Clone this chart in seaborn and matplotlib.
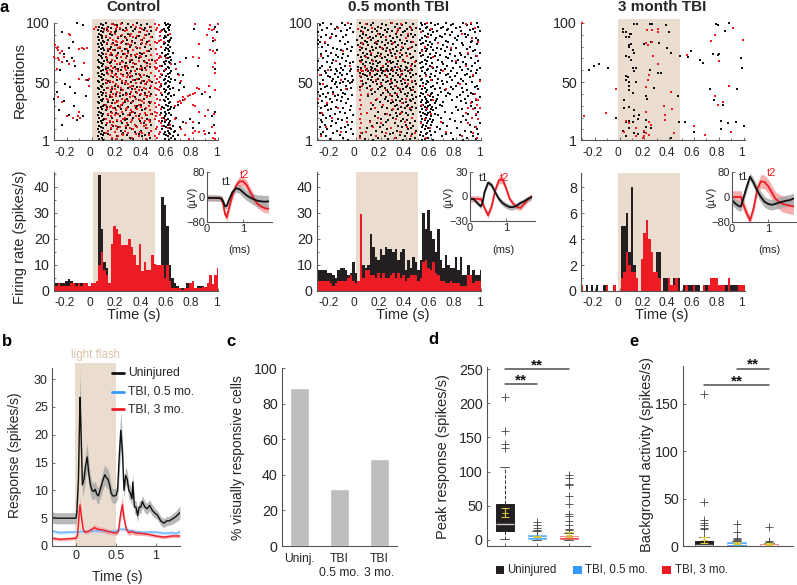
import numpy as np
import matplotlib
matplotlib.use("Agg")
import matplotlib.pyplot as plt
import seaborn as sns
from matplotlib.lines import Line2D
from matplotlib.patches import Rectangle
from matplotlib.transforms import ScaledTranslation

# raster rows: (repetition, spike times...), every second spike of a dense row sits one repetition lower
ctrl_black = [
    (100,-.12,.07,.11,.17,.24,.29,.36,.44,.58,.6),(98,-.07,.06,.09,.13,.2,.31,.39,.46,.59,.61,.62,.98),
    (96,.08,.1,.15,.22,.27,.34,.42,.57,.6,.81),(94,.05,.07,.12,.19,.25,.33,.41,.47,.56,.58,.61),
    (92,-.24,.06,.09,.14,.18,.29,.38,.45,.59,.62,.99),(90,.07,.08,.16,.23,.3,.37,.43,.58,.6),
    (88,.05,.08,.11,.21,.26,.35,.48,.57,.59,.63),(86,.06,.09,.13,.19,.28,.32,.4,.6,.62,.96),
    (84,-.15,.07,.1,.17,.24,.34,.44,.58,.61),(82,.05,.08,.12,.2,.27,.31,.39,.46,.57,.6),
    (80,-.27,-.18,.06,.09,.15,.22,.3,.36,.42,.59,.62),(78,.07,.1,.14,.18,.26,.33,.47,.58,.6,.99),
    (76,.05,.08,.13,.21,.29,.38,.45,.56,.61,.64),(74,-.22,.06,.09,.16,.25,.31,.4,.59,.6),
    (72,.07,.11,.19,.23,.28,.35,.43,.55,.58,.62),(70,-.16,.05,.08,.12,.2,.32,.37,.48,.6,.63,.75),
    (68,-.2,.06,.1,.15,.24,.3,.41,.57,.59,.61),(66,.07,.09,.14,.22,.27,.34,.44,.58,.62,.66),
    (64,-.13,.05,.08,.18,.26,.33,.39,.46,.56,.6,.84),(62,.06,.11,.13,.21,.29,.36,.42,.59,.61,.98),
    (60,-.25,.07,.09,.16,.23,.31,.4,.57,.58,.63),(58,.05,.08,.12,.19,.28,.35,.47,.6,.62,.68),
    (56,-.08,.06,.1,.15,.25,.32,.38,.44,.56,.59,.72),(54,.07,.09,.17,.22,.3,.37,.45,.58,.61,.63),
    (52,-.03,.05,.08,.13,.2,.27,.34,.41,.57,.6,.66),(50,.06,.11,.14,.24,.31,.39,.48,.59,.62,.7),
    (48,-.21,.07,.09,.18,.26,.33,.43,.55,.58,.61),(46,-.17,.05,.08,.12,.21,.29,.36,.46,.6,.64,.73),
    (44,.06,.1,.16,.23,.32,.4,.57,.59,.62,.69),(42,-.28,-.13,.07,.09,.15,.27,.35,.42,.58,.61,.9),
    (40,.05,.08,.19,.25,.3,.38,.47,.56,.6,.65,.87),(38,-.05,.06,.11,.14,.22,.34,.44,.59,.63,.94),
    (36,-.3,.07,.09,.17,.28,.37,.41,.57,.6,.72),(34,-.22,.05,.08,.13,.2,.26,.33,.45,.58,.62),
    (32,.06,.1,.16,.24,.31,.39,.46,.59,.61,.68),(30,-.14,.07,.09,.12,.21,.29,.36,.56,.6,.63),
    (28,.05,.08,.18,.23,.35,.42,.57,.62,.65),(26,-.26,.06,.11,.15,.27,.32,.4,.58,.6,.98),
    (24,.07,.09,.19,.25,.34,.48,.55,.59,.61),(22,-.18,-.07,.05,.08,.13,.22,.3,.37,.43,.58,.63,.95),
    (20,.06,.1,.16,.28,.33,.44,.57,.6,.67,.78),(18,-.12,.07,.09,.2,.26,.38,.46,.56,.59,.62),
    (16,.05,.08,.14,.24,.31,.41,.58,.61,.72,.85),(14,-.24,.06,.11,.17,.29,.35,.47,.57,.6,.64,.97),
    (12,.07,.09,.21,.27,.36,.43,.59,.62,.7,.8),(10,.05,.08,.15,.23,.32,.39,.56,.6,.63,.66),
    (8,.06,.1,.18,.25,.34,.45,.58,.61,.65,.93),(6,.07,.09,.13,.28,.37,.42,.57,.59,.62,.68),
    (4,.05,.08,.2,.3,.4,.46,.6,.63,.64),(2,.06,.09,.16,.24,.33,.44,.58,.61,.66),
]
ctrl_red = [
    (99,.16,.18,.23,.33,.5,.53,.82,.94,1.0),(97,.03,.12,.2,.22,.35,.38,.47,.52),(95,.02,.1,.19,.28,.4,.51,.93,.95,.97),
    (93,.13,.15,.26,.37,.44,.54,.55),(91,-.18,-.17,.18,.24,.31,.42,.62,.91),(89,.11,.21,.3,.33,.36,.47,.54),
    (87,.14,.17,.27,.39,.41,.55,.96,.98),(85,.19,.2,.25,.32,.45,.5,.53,.57),(83,.12,.16,.23,.29,.4,.43,.52,.85),
    (81,-.29,-.27,.18,.22,.3,.35,.46,.55),(79,-.28,-.1,-.08,-.06,-.04,.13,.21,.28,.38,.51),(77,-.27,-.24,.17,.24,.33,.44,.94,.96),
    (75,-.25,.11,.15,.26,.29,.36,.41,.52,.98),(73,.14,.19,.2,.31,.34,.38,.47,.54),(71,-.3,-.27,-.22,.12,.23,.27,.39,.53,.55,.59,.8,.85),
    (69,-.26,-.14,.16,.18,.3,.37,.45,.5,.52),(67,-.24,-.06,.13,.22,.25,.33,.42,.51,.7,.98),(65,-.18,.15,.2,.28,.35,.44,.46,.54,.63),
    (63,.11,.17,.24,.26,.32,.4,.5,.52,.96),(61,-.28,.14,.19,.27,.38,.43,.51,.58,.67),(59,.12,.16,.21,.3,.34,.47,.53,.98),
    (57,.13,.18,.23,.29,.37,.41,.55,.69),(55,.15,.2,.25,.28,.31,.39,.5,.54),(53,-.1,-.05,-.02,.11,.22,.33,.36,.45,.52),
    (51,.14,.17,.24,.27,.4,.44,.46,.53,.71),(49,.12,.19,.26,.29,.35,.42,.51,.55),(47,-.02,.16,.21,.3,.32,.38,.47,.54,.93),
    (45,.13,.18,.23,.34,.41,.43,.5,.52,.83,.85),(43,.15,.2,.25,.31,.37,.45,.53,.9,.98),(41,.11,.17,.22,.28,.36,.39,.55,.8,.82),
    (39,.14,.19,.27,.33,.42,.46,.51,.76,.78),(37,-.27,.12,.16,.24,.3,.35,.44,.52,.72,.74),(35,.13,.21,.26,.29,.38,.4,.54,.7,.73),
    (33,-.24,.18,.2,.25,.32,.41,.47,.5,.68,.71),(31,.11,.15,.23,.34,.37,.45,.53,.66,.8,.82),(29,.14,.17,.22,.28,.39,.43,.51),
    (27,.12,.19,.27,.31,.36,.46,.55,.92),(25,-.1,.16,.24,.3,.33,.42,.5,.52,.85),(23,.13,.18,.21,.29,.38,.44,.47,.54,.97),
    (21,-.2,-.15,-.11,-.09,.15,.26,.35,.4,.51,.56,.9),(19,.11,.2,.25,.32,.37,.45,.5,.58,.66),(17,.14,.17,.23,.31,.42,.46,.53,.8),
    (15,.12,.16,.28,.34,.39,.43,.55,.62,.75),(13,.19,.22,.27,.36,.41,.52,.56,.95),(11,.15,.2,.3,.33,.44,.51,.6,.71),
    (9,.13,.18,.26,.38,.47,.54,.82,.85,.89),(7,.11,.24,.29,.35,.4,.53,.8,.9,.98),(5,.14,.21,.25,.37,.45,.5,.74),(3,.16,.19,.32,.43,.52,.77,.96,.98),
]
mid_black = [
    (100,-.26,-.2,-.11,-.04,.03,.09,.14,.21,.28,.33,.4,.46,.52,.55,.6,.66,.72,.78,.86,.92,.97),
    (98,-.29,-.15,-.09,.05,.12,.18,.24,.31,.37,.43,.53,.57,.63,.7,.76,.83,.89,.98),
    (96,-.23,-.17,-.05,.02,.07,.15,.2,.26,.35,.41,.48,.51,.56,.61,.68,.74,.8,.94),
    (94,-.27,-.12,-.07,.04,.1,.17,.23,.29,.34,.39,.45,.54,.59,.65,.73,.84,.91,.99),
    (92,-.3,-.19,-.02,.06,.13,.19,.25,.32,.38,.44,.52,.58,.62,.71,.77,.87,.95),
    (90,-.24,-.16,-.08,.03,.08,.16,.22,.27,.36,.42,.47,.55,.6,.67,.75,.82,.9),
    (88,-.28,-.21,-.1,.05,.11,.14,.2,.3,.33,.4,.46,.53,.57,.64,.69,.79,.88,.96),
    (86,-.3,-.13,.01,.07,.12,.18,.24,.28,.35,.41,.51,.56,.63,.72,.81,.93,.98),
    (84,-.29,-.25,-.06,.04,.09,.15,.21,.26,.31,.37,.44,.54,.59,.66,.74,.85,.92),
    (82,-.3,-.22,-.09,.02,.06,.1,.17,.23,.29,.34,.39,.48,.52,.58,.61,.7,.78,.86,.97),
    (80,-.27,-.18,-.03,.05,.13,.16,.19,.25,.32,.38,.45,.55,.6,.65,.73,.8,.91),
    (78,-.15,-.12,-.07,.03,.08,.14,.22,.27,.3,.36,.42,.53,.57,.62,.68,.76,.89,.95),
    (76,-.24,-.2,-.04,.06,.11,.18,.24,.28,.33,.4,.47,.51,.56,.64,.71,.83,.94,.99),
    (74,-.28,-.16,-.1,.02,.09,.12,.2,.26,.31,.37,.43,.54,.59,.67,.75,.84,.9),
    (72,-.22,-.14,-.06,.04,.07,.15,.17,.23,.29,.35,.41,.46,.52,.58,.63,.72,.79,.87,.96),
    (70,-.26,-.18,-.11,.05,.1,.13,.21,.25,.32,.38,.44,.55,.6,.66,.74,.82,.92),
    (68,-.3,-.23,-.08,-.02,.03,.08,.16,.19,.27,.3,.34,.39,.48,.53,.57,.69,.77,.86,.98),
    (66,-.19,-.13,-.05,.06,.11,.14,.18,.24,.28,.33,.42,.45,.51,.56,.61,.7,.8,.88,.95),
    (64,-.27,-.21,-.09,.02,.07,.12,.17,.22,.26,.31,.36,.4,.47,.54,.59,.65,.73,.83,.93),
    (62,-.29,-.16,-.12,-.04,.04,.09,.13,.15,.2,.25,.29,.35,.41,.44,.52,.58,.62,.71,.78,.9,.99),
    (60,-.3,-.25,-.2,-.15,-.1,-.05,.02,.05,.08,.1,.12,.14,.16,.18,.2,.22,.24,.26,.28,.3,.33,.36,.39,.42,.45,.53,.57,.64,.68,.76,.85,.92,.97),
    (58,-.24,-.17,-.13,-.07,.03,.06,.11,.17,.21,.27,.32,.37,.43,.48,.55,.6,.67,.74,.81,.89,.96),
    (56,-.28,-.22,-.11,-.03,.07,.09,.15,.19,.23,.3,.34,.4,.46,.51,.56,.63,.72,.79,.87,.94),
    (54,-.21,-.18,-.14,-.09,.04,.1,.13,.18,.25,.28,.35,.38,.44,.53,.59,.66,.75,.84,.91),
    (52,-.26,-.19,-.12,-.06,-.02,.05,.12,.16,.22,.26,.31,.36,.42,.47,.52,.57,.61,.69,.77,.86,.99),
    (50,-.16,-.13,-.1,-.05,-.03,.08,.14,.2,.24,.29,.33,.39,.45,.54,.58,.65,.73,.82,.93),
    (48,-.29,-.23,-.17,-.08,.06,.11,.17,.21,.27,.32,.37,.41,.48,.51,.56,.62,.7,.8,.88,.97),
    (46,-.25,-.2,-.15,-.04,.03,.09,.19,.23,.28,.34,.4,.43,.46,.55,.6,.67,.76,.85,.95),
    (44,-.28,-.12,-.07,.12,.18,.25,.3,.35,.38,.44,.53,.57,.63,.71,.78,.89,.98),
    (42,-.3,-.22,-.18,-.1,.15,.22,.26,.31,.36,.42,.47,.52,.56,.61,.68,.74,.86,.92),
    (40,-.26,-.14,-.09,-.03,.13,.2,.27,.33,.39,.45,.54,.58,.6,.66,.75,.83,.94),
    (38,-.29,-.24,-.17,-.11,.1,.24,.29,.34,.41,.48,.51,.55,.59,.62,.72,.81,.9,.99),
    (36,-.21,-.15,-.06,.16,.23,.32,.37,.43,.46,.53,.56,.6,.65,.77,.87,.96),
    (34,-.27,-.19,-.12,.19,.26,.3,.35,.4,.44,.52,.57,.58,.64,.7,.84,.93),
    (32,-.3,-.23,-.08,.14,.28,.33,.38,.42,.47,.54,.56,.59,.63,.67,.88,.97),
    (30,-.25,-.16,-.04,.21,.31,.36,.41,.45,.52,.55,.58,.61,.69,.8,.92),
    (28,-.28,-.2,-.1,.12,.25,.34,.39,.43,.48,.53,.57,.6,.64,.85,.95),
    (26,-.22,-.13,-.05,.18,.29,.37,.44,.51,.56,.59,.62,.71,.82,.98),
    (24,-.29,-.17,-.09,.23,.32,.35,.4,.46,.54,.55,.58,.63,.77,.9),
    (22,-.26,-.21,-.02,.15,.27,.33,.42,.52,.57,.6,.66,.86,.96),
    (20,-.24,-.14,-.07,.2,.3,.38,.45,.53,.56,.59,.68,.75,.93),
    (18,-.28,-.19,-.11,.11,.26,.36,.41,.47,.55,.58,.62,.79,.88),
    (16,-.27,-.16,-.03,.17,.24,.31,.39,.43,.52,.57,.61,.7,.84,.99),
    (14,-.25,-.2,-.06,.13,.22,.34,.4,.46,.54,.56,.6,.73,.91),
    (12,-.29,-.12,-.09,.09,.19,.28,.37,.44,.53,.58,.65,.81,.95),
    (10,-.23,-.15,-.04,.16,.25,.33,.42,.48,.55,.59,.67,.87,.97),
    (8,-.26,-.18,-.08,.05,.21,.3,.36,.41,.52,.57,.63,.76,.92),
    (6,-.28,-.13,-.02,.12,.27,.35,.45,.51,.56,.6,.72,.83,.98),
    (4,-.24,-.1,.03,.18,.23,.32,.39,.47,.54,.58,.69,.89,.94),
    (2,-.21,-.06,.07,.14,.26,.38,.43,.53,.55,.62,.78,.86,.96),
]
mid_red = [
    (100,-.06,.08,.29,.36,.57,.88,.92),(96,-.14,.02,.13,.34,.44,.6,.95),(92,.06,.18,.33,.42,.52,.85),(88,-.2,.1,.24,.4,.58,.93),
    (84,-.25,.05,.16,.3,.46,.66,.98),(80,.03,.21,.37,.43,.55,.76),(76,-.1,.12,.27,.35,.53,.9),(72,-.28,.08,.19,.32,.41,.62,.97),
    (68,-.16,.04,.14,.26,.38,.47,.8),(64,-.05,.07,.22,.34,.44,.61,.88),(60,-.22,.02,.04,.06,.09,.13,.17,.23,.3,.37,.43,.7),(56,-.29,.03,.11,.25,.36,.56,.94),
    (52,-.12,.04,.16,.28,.39,.45,.6,.99),(48,-.26,.05,.2,.31,.42,.54,.83),(44,-.08,.03,.13,.24,.35,.46,.72),(40,-.18,.04,.1,.27,.33,.58,.95),
    (36,-.3,.03,.17,.29,.4,.62,.96,.98),(32,-.23,.04,.12,.22,.37,.53,.92,.97),(28,-.14,.03,.15,.3,.43,.57,.9,.94,.99),(24,-.27,.04,.09,.25,.36,.6,.88,.96),
    (20,-.19,.03,.18,.32,.45,.55,.93,.98),(16,-.07,.04,.11,.2,.39,.52,.68,.9),(12,-.24,.03,.14,.28,.41,.59,.96),(8,-.12,.04,.08,.24,.35,.47,.72,.94),
    (4,-.28,.03,.16,.31,.44,.56,.85,.97),
]
late_black = [
    (100,.88),(99,.116,.142,.242,.26,.78),(98,.376,.79),(95,.03),(93,.85),(92,.054,.03,.4),(91,.085,.09),(88,.08,.05),
    (84,.25),(83,.32),(82,.09,.2),(81,.075),(80,.075),(79,.38),(77,.11),(76,.575),(75,.12,.417),(74,.75,.8),(73,.79),
    (72,.055,.49),(71,.08,.55),(70,.98),(69,.095,.645),(66,.67),(65,-.167),(64,-.207),(62,.107,.13,-.095,.985),(60,-.247,.242),
    (59,.12),(58,.31,.33),(55,.054),(54,.067),(52,.05),(50,.08,.13),(47,.075),(45,.275),(44,.725,.946),(43,.08),(41,.11),
    (38,.215,.47),(36,.223),(35,.035,.76),(31,.83),(29,.073),(28,.035),(26,.12),(22,.16),(21,.12),(20,-.03),(19,.15),
    (18,.215),(17,.08,.82),(16,.054,.107,.476,.524,.94),(15,.874),(13,.6,1.0),(12,.215),(11,.08,.255),(10,.82),(9,.027),
    (8,.2,.6),(7,.12),(6,.15),(4,.054),(3,.417),
]
late_red = [
    (100,-.3),(96,.914),(95,.31),(94,.22,.26),(92,.31),(90,.766),(86,.995),(85,.734),(84,.26),(83,.215),(81,.228),(73,.543),
    (72,.27),(68,.8),(65,.31),(56,.237),(52,.228),(47,.88),(46,.215),(44,-.03),(42,.417),(38,.766),(33,.83),(31,.796),(30,.36),
    (27,.425),(25,.215),(24,-.11),(22,.37),(21,-.288),(18,.37),(17,.055),(16,.24),(15,.08),(14,.255),(13,.6),(11,.13),
    (9,.2),(8,.035,.9),(7,.215,.44),(5,.24,.69),(4,.2,.134),(3,.19),
]

# psth values, one bin every 0.02 s
ctrl_hist_black = [3,3,3,3,3,4,4.5,4,3,3,3,3,3,3,2,3,3,4,44.5,24,11,9,3,10,5,5,5,5,5,5,5,5,5,5,5,5,5,5,5,5,5,5,8,36,33,25,10,5,3,2,1,1,1,3,2,1,1,2,2,2,1,1,1,1,1,1]
ctrl_hist_red = [3,2,3,2,2,2,2,3,3,2,3,2,3,3,2,3,3,4,10,15,8,6,3,18,25,24,22,17.5,17.5,17.5,20,17,14,10,18,7.5,11,8,8,14,10.5,10,10,10,5,10,4,1,1,1,1,.5,1,1,3,4,1,1,1,1.5,1.5,3,6,2.5,6,9]
mid_hist_black = [8,8,8,8,7,7,6,5,8,9,9,8,6,7,11,7,4,4,10,9,10,22,17,13,12,16,14,17,16,16,15,16,12,15,16,8,12,9,13,11,8,12,30,24,31,23,20,15,24,12,9,14,10,9,9,13,8,13,6,6,10,6,8,6,6,8]
mid_hist_red = [4,4,4,4,4,3,2,3,4,4,4,4,5,6,4,3,4,29.5,5,8,8,6,6,5,7,5,7,5,5,6,7,5,7,5,6,4,5,6,6,6,4,5,11,12,9,8,11,7,6,4,4,3,3,4,3,3,3,2,2,2,6,6,3,4,4,4]
late_hist_black = [0,0,.5,0,.5,0,.5,0,0,.5,0,0,0,0,0,0,5,5,6,3,8,2,1,0,2,0,0,0,0,1,3,3,0,1,1,0,0,1,0,1,0,.5,0,.5,.5,0,.5,.5,0,0,.5,.5,0,.5,.5,.5,.5,0,.5,0,.5,.5,.5,0,.5,0]
late_hist_red = [.5,0,0,0,0,0,0,0,0,0,.5,0,0,.5,0,0,1,1.5,3,2,1.5,1.5,1,0,2.5,4.5,5.5,4,3,1.5,1.5,1,0,0,0,1,.5,.5,1,0,0,0,.5,0,0,.5,0,0,0,.5,0,.5,1,1,1,.5,.5,.5,0,1,0,0,0,.5,.5,.5]

# spike waveforms in the insets
wave_t1 = [0,.1,.2,.3,.4,.45,.5,.55,.6,.7,.8,.9,1.0,1.1,1.2,1.3,1.4,1.5,1.6,1.7]
ctrl_wave_black = [-3,-3,-3,-3,-5,-15,-30,-28,-12,15,28,25,15,5,-2,-8,-12,-14,-15,-14]
ctrl_wave_red = [-3,-3,-3,-3,-5,-25,-55,-65,-40,5,35,50,50,38,15,-5,-22,-30,-36,-38]
ctrl_err_black = [10,10,10,10,10,10,9,9,10,10,12,14,16,16,16,18,19,20,20,20]
ctrl_err_red = [9,9,9,9,9,10,12,13,13,14,14,15,15,15,15,14,14,14,14,14]
wave_t2 = [0,.1,.2,.3,.35,.4,.5,.6,.7,.8,.9,1.0,1.1,1.2,1.3,1.4,1.5,1.6,1.7]
mid_wave_black = [-3,-3,-8,-12,-7,5,17,14,5,-3,-8,-11,-13,-13,-11,-8,-6,-3,-1]
mid_wave_red = [-3,-3,-3,-3,-8,-14,-23,-12,8,20,21,10,-3,-9,-13,-14,-9,-4,0]
mid_err_black = [2,2,2.5,3,3,3,3,3,3,3.5,3.5,3.5,3.5,3.5,3.5,3.5,3.5,3.5,3.5]
mid_err_red = [4,4,4,3,3,3,4,3,3,5,5,4,3,3,3,3,3,3,3]
wave_t3 = [0,.1,.2,.25,.3,.4,.5,.6,.7,.8,.9,1.0,1.1,1.2,1.3,1.4,1.5,1.6,1.7]
late_wave_black = [-10,-22,-30,-30,-10,30,65,45,20,0,-15,-22,-25,-22,-18,-15,-12,-10,-5]
late_wave_red = [0,0,0,0,-20,-50,-75,-35,25,50,48,35,15,-5,-15,-22,-25,-28,-30]
late_err_black = [15,15,15,15,15,15,12,15,17,17,17,17,17,17,18,18,18,18,18]
late_err_red = [20,20,20,20,20,15,12,15,18,22,22,22,22,22,24,26,26,26,26]

# panel b population responses
resp_t = [-.3,-.25,-.2,-.15,-.1,-.05,0,.01,.03,.05,.06,.08,.1,.12,.14,.16,.18,.2,.22,.24,.26,.28,.3,.32,.34,.36,.38,.4,.42,.44,.46,.48,.5,.52,.54,.56,.58,.6,.62,.64,.66,.68,.7,.71,.73,.75,.77,.79,.81,.83,.86,.89,.92,.95,.98,1.02,1.06,1.1,1.13,1.16,1.2,1.25,1.3]
resp_black = [5.1,5,5,5,5,5,5,6,12,26.7,22,11,12,14.5,16,13,11,10,9.8,10.2,9.3,9,10,11,12,12.8,12.3,12,11,9.5,9,9,9.1,10,16,20.8,17,10,12.7,12,10,9.5,8.5,11.5,7,7,5.5,7,7,8,7,6.7,7.3,6.5,6,5.5,4.5,4.1,4.5,4.5,4.8,5.3,6]
resp_err = [1,1,1,1,1,1,1,1,3,5,4,2,2.2,2.4,2.5,2.2,1.8,1.5,1.5,1.5,1.5,1.5,1.5,1.6,1.7,1.8,1.8,1.8,1.7,1.4,1.3,1.3,1.3,1.5,3,3.5,2.5,1.5,1.6,1.5,1.4,1.3,1.3,1.5,1.2,1.2,1.1,1.1,1.1,1.1,1,1,1,1,.9,.8,.8,.8,.8,.8,.9,1,1.2]
red_t = [-.3,-.2,-.1,0,.02,.04,.05,.07,.09,.11,.15,.2,.23,.27,.33,.4,.47,.5,.53,.56,.58,.6,.63,.66,.7,.75,.8,.9,1,1.1,1.2,1.3]
resp_red = [1.4,1.2,1.3,1.4,2,6,7.4,5,3,2.5,2.6,3,3.3,3,2.9,2.6,2.4,2.3,2.7,6,7.4,5,3,2.4,2.6,2.3,2.3,2.1,1.8,1.6,1.8,1.8]
red_err = [.3,.3,.3,.3,.4,1.2,1.5,1,.5,.4,.4,.5,.6,.5,.5,.5,.4,.4,.5,1.2,1.6,1,.6,.5,.5,.4,.4,.3,.3,.3,.3,.3]
blue_t = [-.3,-.2,-.1,0,.05,.1,.2,.3,.4,.5,.55,.6,.7,.8,.9,1,1.1,1.2,1.25,1.3]
resp_blue = [2.7,2.4,2.5,2.5,2.6,2.6,2.7,2.7,2.6,2.7,3,3,2.7,2.5,2.5,2.5,2.3,2.4,2.2,2.6]
blue_err = [.3,.3,.3,.3,.3,.3,.3,.3,.3,.3,.3,.3,.3,.3,.3,.3,.3,.3,.3,.3]

# panel c
cell_labels = ["Uninj.", "TBI\n0.5 mo.", "TBI\n3 mo."]
cell_pct = [89, 32, 49]

# panels d and e
peak_stats = [
    dict(med=23, q1=13, q3=53, whislo=2, whishi=107, fliers=[134, 141, 160, 209]),
    dict(med=5, q1=1, q3=8, whislo=0, whishi=13, fliers=[14, 17, 22, 27]),
    dict(med=4, q1=1, q3=6, whislo=0, whishi=10, fliers=[12, 14, 16, 22, 28, 35, 38, 52, 65, 81, 82, 90, 95]),
]
peak_mean = [40, 5, 8]
peak_sem = [7, 1, 3]
bg_stats = [
    dict(med=1, q1=0, q3=5, whislo=0, whishi=9, fliers=[10, 18, 19, 22, 24, 27, 46, 160]),
    dict(med=2, q1=.5, q3=4, whislo=0, whishi=5, fliers=[6, 7, 8, 15, 23]),
    dict(med=1, q1=0, q3=2, whislo=0, whishi=3, fliers=[4, 5, 20]),
]
bg_mean = [6, 3, 2]
bg_sem = [3, 1, 1]

W, H = 797, 585
SHADE = "#EADDCF"
BLACK = "#231F20"
RED = "#ED1C24"
BLUE = "#3399FF"
AXC = "#555555"
TXT = "#262626"

sns.set_style("ticks")
plt.rcParams["font.family"] = ["Liberation Sans", "DejaVu Sans"]
plt.rcParams["text.color"] = TXT
plt.rcParams["axes.labelcolor"] = TXT
plt.rcParams["xtick.labelcolor"] = TXT
plt.rcParams["ytick.labelcolor"] = TXT

fig = plt.figure(figsize=(W / 100, H / 100), dpi=100)


def px_axes(left, top, right, bottom):
    ax = fig.add_axes([left / W, 1 - bottom / H, (right - left) / W, (bottom - top) / H])
    ax.patch.set_alpha(0)
    sns.despine(ax=ax)
    for s in ["left", "bottom"]:
        ax.spines[s].set_color(AXC)
        ax.spines[s].set_linewidth(0.8)
    return ax


def px_text(x, y, s, size=10, ha="center", **kw):
    fig.text(x / W, 1 - y / H, s, fontsize=size, ha=ha, va="center", **kw)


def flatten(rows, dense):
    t, r = [], []
    for row in rows:
        for i, v in enumerate(row[1:]):
            t.append(v)
            r.append(row[0] - (i % 2 if dense else 0))
    return t, r


def time_ticks(ax, pad):
    ax.set_xticks([-.2, 0, .2, .4, .6, .8, 1])
    ax.set_xticklabels(["-0.2", "0", "0.2", "0.4", "0.6", "0.8", "1"])
    ax.set_xticks(np.arange(-.3, 1.01, .1), minor=True)
    ax.tick_params(axis="x", which="both", direction="in", color=AXC, length=2, width=.6, pad=pad, labelsize=8.6)
    ax.tick_params(axis="x", which="minor", length=1.5)
    ax.tick_params(axis="y", which="both", direction="in", color=AXC, length=2.5, width=.6, pad=3, labelsize=10.3)
    ax.tick_params(axis="y", which="minor", length=1.5)
    shift = ScaledTranslation(-2 / 100, 0, fig.dpi_scale_trans)
    for lab in ax.get_xticklabels():
        lab.set_transform(lab.get_transform() + shift)


def raster(box, xlim, shade, black, red, dense=True):
    ax = px_axes(*box)
    ax.axvspan(shade[0], shade[1], ymin=0, ymax=1 + 4 / 117, color=SHADE, lw=0, clip_on=False, zorder=0)
    for rows, col in [(black, "#111111"), (red, RED)]:
        t, r = flatten(rows, dense)
        sns.scatterplot(x=t, y=r, color=col, marker="s", s=1.5, linewidth=0, ax=ax, zorder=3, clip_on=False)
    ax.set_xlim(*xlim)
    ax.set_ylim(1, 100)
    ax.set_yticks([1, 50, 100])
    ax.set_yticks(np.arange(10, 100, 10), minor=True)
    time_ticks(ax, 5)
    return ax


def psth(box, xlim, ylim, shade, black, red, yticks, yminor):
    ax = px_axes(*box)
    ax.axvspan(shade[0], shade[1], color=SHADE, lw=0, zorder=0)
    for vals, col in [(black, BLACK), (red, RED)]:
        edges = -.31 + .02 * np.arange(len(vals) + 1)
        sns.histplot(x=edges[:-1] + .01, weights=vals, bins=list(edges), color=col, alpha=1, linewidth=0, ax=ax, zorder=2)
    ax.set_xlim(*xlim)
    ax.set_ylim(*ylim)
    ax.set_ylabel("")
    ax.set_yticks(yticks)
    ax.set_yticks(yminor, minor=True)
    time_ticks(ax, 4)
    return ax


def wave(box, t, black, red, err_b, err_r, lim, label_xy):
    ax = px_axes(*box)
    t = np.array(t)
    for vals, err, col, band in [(red, err_r, RED, "#F4A0A0"), (black, err_b, "#111111", "#A8A8A8")]:
        vals, err = np.array(vals), np.array(err)
        ax.fill_between(t, vals - err, vals + err, color=band, lw=0, alpha=.85)
        sns.lineplot(x=t, y=vals, color=col, lw=1.3, ax=ax, errorbar=None)
    ax.set_xlim(0, 1.8)
    ax.set_ylim(-lim, lim)
    ax.set_xticks([0, 1])
    ax.set_yticks([-lim, 0, lim])
    ax.tick_params(direction="in", color=AXC, length=2, width=.6, pad=1.5, labelsize=8)
    ax.text(label_xy[0], label_xy[1], "t1", fontsize=8, color=TXT, ha="center", va="center")
    ax.text(label_xy[2], label_xy[3], "t2", fontsize=8, color=RED, ha="center", va="center")
    return ax


# panel a, rasters
raster((54, 23, 218, 140), (-.3, 1), (0, .5), ctrl_black, ctrl_red)
raster((317, 23, 481, 140), (-.31, 1), (0, .5), mid_black, mid_red)
raster((581, 23, 745, 140), (-.31, 1.01), (-.015, .49), late_black, late_red, dense=False)

# panel a, firing rate
psth((54, 172, 218, 291), (-.3, 1), (0, 45.7), (.01, .5), ctrl_hist_black, ctrl_hist_red, [0, 10, 20, 30, 40], np.arange(5, 46, 10))
psth((317, 172, 481, 291), (-.31, 1), (0, 45.7), (0, .5), mid_hist_black, mid_hist_red, [0, 10, 20, 30, 40], np.arange(5, 46, 10))
psth((581, 173, 745, 291), (-.31, 1.01), (0, 9.1), (-.015, .49), late_hist_black, late_hist_red, [0, 2, 4, 6, 8], np.arange(1, 9, 2))

wave((207, 172, 272, 222), wave_t1, ctrl_wave_black, ctrl_wave_red, ctrl_err_black, ctrl_err_red, 80, (.55, 48, 1.05, 72))
wave((470, 172, 535, 221), wave_t2, mid_wave_black, mid_wave_red, mid_err_black, mid_err_red, 30, (.38, 23, .95, 23))
wave((732, 172, 797, 222), wave_t3, late_wave_black, late_wave_red, late_err_black, late_err_red, 80, (.33, 65, 1.1, 78))
for x, yc, xm in [(192, 197, 239), (448, 197, 503), (711, 197, 769)]:
    px_text(x, yc, "(µV)", size=8, rotation=90)
    px_text(xm, 250, "(ms)", size=8)

for x, s in [(134, "Control"), (399, "0.5 month TBI"), (662, "3 month TBI")]:
    px_text(x, 7, s, size=11, fontweight="bold")
    px_text(x + (4 if x == 399 else 0), 315, "Time (s)", size=10.5)
px_text(20, 80, "Repetitions", size=11, rotation=90)
px_text(20, 237, "Firing rate (spikes/s)", size=10.5, rotation=90)

# panel b
ax = px_axes(52, 368, 180, 546)
ax.axvspan(-.01, .5, ymin=0, ymax=1 + 5 / 178, color=SHADE, lw=0, clip_on=False, zorder=0)
for t, vals, err, col, band in [
    (blue_t, resp_blue, blue_err, "#6FB7FF", "#BBDDFF"),
    (red_t, resp_red, red_err, RED, "#F4A0A0"),
    (resp_t, resp_black, resp_err, "#111111", "#A8A8A8"),
]:
    t, vals, err = np.array(t), np.array(vals), np.array(err)
    ax.fill_between(t, vals - err, vals + err, color=band, lw=0, alpha=.8)
    sns.lineplot(x=t, y=vals, color=col, lw=1, ax=ax, errorbar=None)
ax.set_xlim(-.3, 1.3)
ax.set_ylim(0, 32)
ax.set_xticks([0, .5, 1])
ax.set_xticklabels(["0", "0.5", "1"])
ax.set_yticks(np.arange(0, 31, 5))
ax.tick_params(direction="in", color=AXC, length=2.5, width=.6, labelsize=9, pad=3)
px_text(95, 355, "light flash", size=8.3, color="#D9C2A7")
px_text(15, 455, "Response (spikes/s)", size=10, rotation=90)
px_text(117, 577, "Time (s)", size=10)
for y, s, col in [(373, "Uninjured", "#111111"), (392, "TBI, 0.5 mo.", BLUE), (409, "TBI, 3 mo.", RED)]:
    fig.add_artist(Line2D([112 / W, 124 / W], [1 - y / H, 1 - y / H], color=col, lw=2))
    px_text(128, y, s, size=8.7, ha="left")

# panel c
ax = px_axes(282, 368, 397, 546)
sns.barplot(x=cell_labels, y=cell_pct, color="#BEBEBE", width=.47, saturation=1, ax=ax)
ax.set_xlim(-.44, 2.44)
ax.set_ylim(0, 100)
ax.set_yticks(np.arange(0, 101, 20))
ax.tick_params(axis="x", length=0, labelsize=8.7, pad=5)
ax.tick_params(axis="y", direction="in", color=AXC, length=2.5, width=.6, labelsize=10.3, pad=3)
px_text(238, 458, "% visually responsive cells", size=10, rotation=90)


# panels d and e
def boxes(box, stats, means, sems, xlim, ylim, yticks):
    ax = px_axes(*box)
    art = ax.bxp(stats, positions=[1, 2, 3], widths=.57, patch_artist=True, manage_ticks=False,
                 flierprops=dict(marker="+", markersize=5.5, markeredgecolor="#444444", markeredgewidth=.6),
                 whiskerprops=dict(color="#333333", lw=.7, ls="--"),
                 capprops=dict(color="#555555", lw=.7))
    for patch, med, face, edge in zip(art["boxes"], art["medians"], [BLACK, BLUE, RED], [BLACK, "#7FC0FF", "#F07070"]):
        patch.set_facecolor(face)
        patch.set_edgecolor(edge)
        patch.set_linewidth(.7)
        med.set_color("#C8C8C8" if face == BLACK else "white")
        med.set_linewidth(1)
    ax.errorbar([1, 2, 3], means, yerr=sems, fmt="none", ecolor="#D8C93A", elinewidth=.8, capsize=3, capthick=.8, zorder=5)
    ax.scatter([1, 2, 3], means, marker="_", s=24, color="#D8C93A", linewidth=.8, zorder=5)
    ax.set_xlim(*xlim)
    ax.set_ylim(*ylim)
    ax.set_xticks([1, 2, 3])
    ax.set_xticklabels([])
    ax.set_yticks(yticks)
    ax.tick_params(direction="in", color=AXC, length=2.5, width=.6, labelsize=10.3, pad=3)
    return ax


def sig(ax, x0, x1, y, ytext):
    ax.plot([x0, x1], [y, y], color="#4D4D4D", lw=1.1, clip_on=False)
    ax.text((x0 + x1) / 2, ytext, "**", fontsize=11, fontweight="bold", ha="center", va="center", color="#111111", clip_on=False)


ax = boxes((487, 367, 590, 546), peak_stats, peak_mean, peak_sem, (.44, 3.66), (-8.8, 253), [0, 50, 100, 150, 200, 250])
sig(ax, 1, 3, 250, 255)
sig(ax, 1, 2, 228, 233)
ax = boxes((683, 366, 793, 546), bg_stats, bg_mean, bg_sem, (.35, 3.74), (0, 190), [0, 50, 100, 150])
sig(ax, 2, 3, 187, 192)
sig(ax, 1, 3, 169.5, 174)
px_text(443, 457, "Peak response (spikes/s)", size=10.5, rotation=90)
px_text(647, 455, "Background activity (spikes/s)", size=10.5, rotation=90)

for x, tx, s, col in [(496, 507, "Uninjured", BLACK), (573, 585, "TBI, 0.5 mo.", BLUE), (662, 675, "TBI, 3 mo.", RED)]:
    fig.add_artist(Rectangle((x / W, 1 - 574 / H), 8.5 / W, 8.5 / H, transform=fig.transFigure, color=col, lw=0))
    px_text(tx, 570, s, size=8.3, ha="left")

for x, y, s in [(4, 7, "a"), (7, 342, "b"), (231, 342, "c"), (433, 340, "d"), (634, 341, "e")]:
    px_text(x, y, s, size=12, fontweight="bold", color="black")

fig.savefig("out.png", dpi=100)
